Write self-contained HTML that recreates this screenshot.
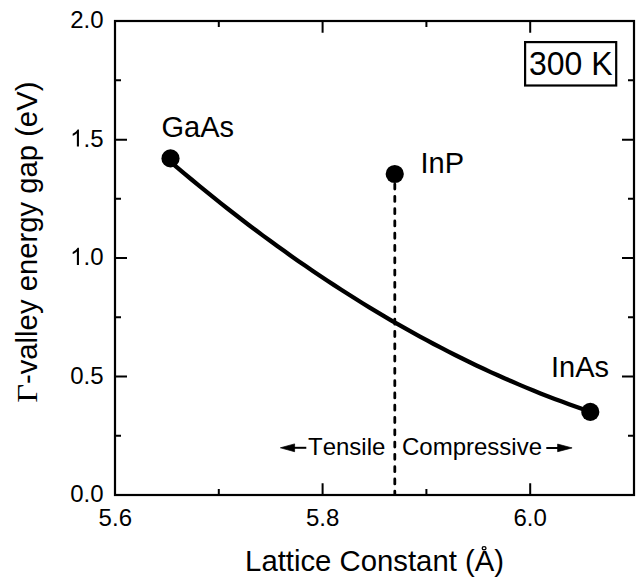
<!DOCTYPE html>
<html>
<head>
<meta charset="utf-8">
<style>
html,body{margin:0;padding:0;background:#fff;width:640px;height:584px;overflow:hidden;}
svg{display:block;}
text{font-family:"Liberation Sans",sans-serif;fill:#000;font-kerning:none;}
</style>
</head>
<body>
<svg width="640" height="584" viewBox="0 0 640 584">
<rect x="0" y="0" width="640" height="584" fill="#fff"/>
<!-- plot frame -->
<rect x="115" y="21" width="519" height="474" fill="none" stroke="#000" stroke-width="2.2"/>
<!-- ticks -->
<g stroke="#000" stroke-width="2" fill="none">
<path d="M218.8 495V489M322.6 495V483.2M426.4 495V489M530.2 495V483.2"/>
<path d="M218.8 21V27M322.6 21V32.8M426.4 21V27M530.2 21V32.8"/>
<path d="M115 435.75H121M115 376.5H127M115 317.25H121M115 258H127M115 198.75H121M115 139.8H127M115 80.25H121"/>
<path d="M634 435.75H628M634 376.5H622M634 317.25H628M634 258H622M634 198.75H628M634 139.8H622M634 80.25H628"/>
</g>
<!-- y tick labels -->
<g font-size="24" text-anchor="end">
<text x="103.5" y="28">2.0</text>
<text x="103.5" y="146.5">.5</text>
<text x="103.5" y="265">.0</text>
<text x="103.5" y="383.5">0.5</text>
<text x="103.5" y="502">0.0</text>
</g>
<!-- Arial-style digit 1 -->
<path d="M763 0L583 0L583 1147Q518 1085 412 1023Q306 961 222 930L222 1104Q373 1175 486 1276Q599 1377 646 1472L763 1472Z" transform="translate(70.1,146.6) scale(0.01162,-0.01162)" fill="#000"/>
<path d="M763 0L583 0L583 1147Q518 1085 412 1023Q306 961 222 930L222 1104Q373 1175 486 1276Q599 1377 646 1472L763 1472Z" transform="translate(70.1,264.9) scale(0.01162,-0.01162)" fill="#000"/>
<!-- x tick labels -->
<g font-size="24" text-anchor="middle">
<text x="115.3" y="526">5.6</text>
<text x="322.6" y="526">5.8</text>
<text x="530.2" y="526">6.0</text>
</g>
<!-- axis titles -->
<text x="245.1" y="570.7" font-size="29.3">Lattice Constant (A)</text>
<ellipse cx="484.1" cy="548.2" rx="1.9" ry="1.55" fill="none" stroke="#000" stroke-width="1.3"/>
<g transform="translate(37,401.9) rotate(-90)">
<text x="-0.876" y="0" font-size="30.4" transform="scale(1.075,1)" style="font-family:'Liberation Serif',serif">Γ</text>
<text x="17.9" y="0" font-size="29.25">-valley energy gap (eV)</text>
</g>
<!-- curve -->
<polyline fill="none" stroke="#000" stroke-width="4.3" stroke-linejoin="round" points="170.50,161.79 177.62,167.85 184.73,173.84 191.85,179.77 198.96,185.63 206.08,191.43 213.19,197.17 220.31,202.85 227.42,208.47 234.54,214.02 241.65,219.51 248.77,224.93 255.88,230.30 263.00,235.60 270.11,240.83 277.23,246.01 284.34,251.12 291.46,256.17 298.57,261.16 305.69,266.08 312.81,270.94 319.92,275.74 327.04,280.48 334.15,285.15 341.27,289.76 348.38,294.31 355.50,298.79 362.61,303.22 369.73,307.58 376.84,311.87 383.96,316.11 391.07,320.28 398.19,324.39 405.30,328.43 412.42,332.42 419.53,336.34 426.65,340.19 433.76,343.99 440.88,347.72 447.99,351.39 455.11,355.00 462.23,358.54 469.34,362.02 476.46,365.44 483.57,368.79 490.69,372.09 497.80,375.32 504.92,378.49 512.03,381.59 519.15,384.63 526.26,387.61 533.38,390.53 540.49,393.38 547.61,396.17 554.72,398.90 561.84,401.57 568.95,404.17 576.07,406.71 583.18,409.19 590.30,411.60"/>
<!-- dashed line -->
<line x1="394.8" y1="184.1" x2="394.8" y2="494.5" stroke="#000" stroke-width="2.8" stroke-dasharray="5 7.284" stroke-linecap="round"/>
<!-- dots -->
<circle cx="170.5" cy="158.4" r="9.1" fill="#000"/>
<circle cx="394.75" cy="174" r="9.1" fill="#000"/>
<circle cx="590.3" cy="411.9" r="9.1" fill="#000"/>
<!-- labels -->
<text x="161.5" y="137.3" font-size="29">GaAs</text>
<text x="420.5" y="173.1" font-size="29">InP</text>
<text x="551" y="377.4" font-size="29">InAs</text>
<!-- 300 K box -->
<rect x="525.1" y="42.1" width="91.1" height="43.4" fill="none" stroke="#000" stroke-width="2.2"/>
<text x="0" y="0" font-size="32" transform="translate(528.9,74.8) scale(1,1.035)">300 K</text>
<!-- tensile/compressive -->
<text x="308" y="455.1" font-size="24">Tensile</text>
<text x="402" y="455.1" font-size="24">Compressive</text>
<g fill="#000" stroke="#000">
<path d="M294 447.8H306.3" stroke-width="2"/>
<path d="M280.4 447.8L294.6 443.9L294.6 451.7Z" stroke-width="0.7" stroke-linejoin="round"/>
<path d="M546.3 448H558" stroke-width="2"/>
<path d="M572.1 447.9L557.6 444.1L557.6 451.7Z" stroke-width="0.7" stroke-linejoin="round"/>
</g>
</svg>
</body>
</html>
